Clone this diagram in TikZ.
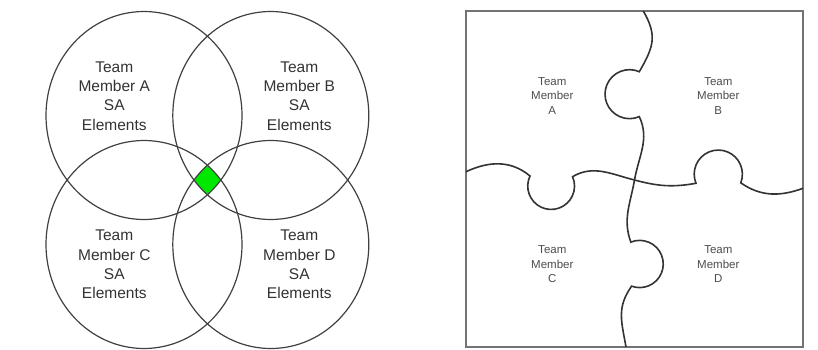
\documentclass[tikz,border=0pt]{standalone}
\usepackage{fontspec}
\usepackage{tikz}
\usepackage{xcolor}
\setmainfont{Liberation Sans}
\definecolor{sharedsa}{RGB}{0,232,0}

\begin{document}
\begin{tikzpicture}[x=1pt, y=1pt,
  venn/.style={draw=black!75, line width=1.2pt},
  piece/.style={draw=black!80, line width=1.6pt},
  teamlabel/.style={align=center, inner sep=0pt, text=black!80, font=\fontsize{15.5}{19.3}\selectfont},
  piecelabel/.style={align=center, inner sep=0pt, text=black!70, font=\fontsize{11.5}{14.5}\selectfont}]
\useasboundingbox (0,0) rectangle (818,-349);
% centres of the four SA circles
\coordinate (ca) at (144,-115.5);
\coordinate (cb) at (270.8,-115.5);
\coordinate (cc) at (144,-244.5);
\coordinate (cd) at (270.8,-244.5);
% shared SA: the part all four circles have in common
\begin{scope}
\clip (ca) ellipse[x radius=98, y radius=104];
\clip (cb) ellipse[x radius=98, y radius=104];
\clip (cc) ellipse[x radius=98, y radius=104];
\fill[sharedsa] (cd) ellipse[x radius=98, y radius=104];
\end{scope}
\draw[venn] (ca) ellipse[x radius=98, y radius=104];
\draw[venn] (cb) ellipse[x radius=98, y radius=104];
\draw[venn] (cc) ellipse[x radius=98, y radius=104];
\draw[venn] (cd) ellipse[x radius=98, y radius=104];
\node[teamlabel] (ta) at (114.3,-96) {Team\\Member A\\SA\\Elements};
\node[teamlabel] (tb) at (299.3,-96) {Team\\Member B\\SA\\Elements};
\node[teamlabel] (tc) at (114.3,-264.5) {Team\\Member C\\SA\\Elements};
\node[teamlabel] (td) at (299.3,-264.5) {Team\\Member D\\SA\\Elements};
% the puzzle
\draw[draw=black!55, line width=1.4pt] (466,-11) rectangle (803,-347);
\draw[piece] (643.3,-11) to[out=-60, in=60, looseness=1.2] (639.3,-71.7)
  arc[start angle=66.5, end angle=293.5, radius=24.5]
  to[out=-65, in=80] (634.5,-180)
  to[out=-100, in=110] (630.8,-242.1)
  arc[start angle=112, end angle=-110, radius=23.6]
  to[out=-125, in=100, looseness=1.1] (626,-347);
\draw[piece] (466,-171.7) to[out=25, in=140] (530,-176)
  arc[start angle=154.6, end angle=383.7, radius=23.4]
  to[out=30, in=166] (634.5,-180)
  to[out=-15, in=-170] (696,-183.3)
  arc[start angle=202.3, end angle=-21.1, radius=24.1]
  to[out=-35, in=-160] (803,-188.3);
\node[piecelabel] (pa) at (552.3,-96) {Team\\Member\\A};
\node[piecelabel] (pb) at (718.3,-96) {Team\\Member\\B};
\node[piecelabel] (pc) at (552.3,-264.3) {Team\\Member\\C};
\node[piecelabel] (pd) at (718.3,-264.3) {Team\\Member\\D};
\end{tikzpicture}
\end{document}
